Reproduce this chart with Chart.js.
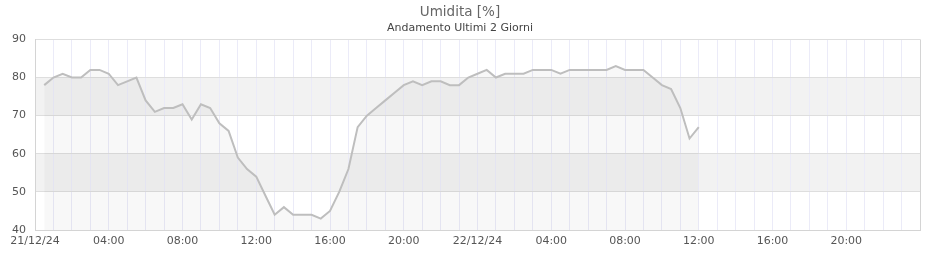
<!DOCTYPE html>
<html>
<head>
<meta charset="utf-8">
<script src="https://cdn.jsdelivr.net/npm/chart.js@4"></script>
<style>
  html, body { margin: 0; padding: 0; background: #ffffff; }
  #wrap { width: 940px; height: 260px; }
</style>
</head>
<body>
<div id="wrap"><canvas id="umiditaChart" width="940" height="260"></canvas></div>
<script>
// ore dall'inizio del 21/12/24 (campioni ogni 30 minuti)
var times = [0.5, 1, 1.5, 2, 2.5, 3, 3.5, 4, 4.5, 5, 5.5, 6,
             6.5, 7, 7.5, 8, 8.5, 9, 9.5, 10, 10.5, 11, 11.5, 12,
             12.5, 13, 13.5, 14, 14.5, 15, 15.5, 16, 16.5, 17, 17.5, 18,
             18.5, 19, 19.5, 20, 20.5, 21, 21.5, 22, 22.5, 23, 23.5, 24,
             24.5, 25, 25.5, 26, 26.5, 27, 27.5, 28, 28.5, 29, 29.5, 30,
             30.5, 31, 31.5, 32, 32.5, 33, 33.5, 34, 34.5, 35, 35.5, 36];

var umidita = [78, 80, 81, 80, 80, 82, 82, 81, 78, 79, 80, 74,
               71, 72, 72, 73, 69, 73, 72, 68, 66, 59, 56, 54,
               49, 44, 46, 44, 44, 44, 43, 45, 50, 56, 67, 70,
               72, 74, 76, 78, 79, 78, 79, 79, 78, 78, 80, 81,
               82, 80, 81, 81, 81, 82, 82, 82, 81, 82, 82, 82,
               82, 82, 83, 82, 82, 82, 80, 78, 77, 72, 64, 67];

var bands = [[70, 80], [50, 60]];          // fasce grigie di sfondo

var tickHours = [0, 4, 8, 12, 16, 20, 24, 28, 32, 36, 40, 44];
var tickLabels = ['21/12/24', '04:00', '08:00', '12:00', '16:00', '20:00',
                  '22/12/24', '04:00', '08:00', '12:00', '16:00', '20:00'];

var bandPlugin = {                         // disegna le fasce sotto la griglia
  id: 'bands',
  beforeDraw: function (chart) {
    var ctx = chart.ctx;
    var area = chart.chartArea;
    var y = chart.scales.y;
    ctx.save();
    ctx.fillStyle = '#f2f2f2';
    for (var i = 0; i < bands.length; i++) {
      var top = y.getPixelForValue(bands[i][1]);
      var bot = y.getPixelForValue(bands[i][0]);
      ctx.fillRect(area.left, top, area.right - area.left, bot - top);
    }
    ctx.restore();
  }
};

function init() {
  var points = [];
  for (var i = 0; i < times.length; i++) {
    points.push({ x: times[i], y: umidita[i] });
  }

  var ctx = document.getElementById('umiditaChart').getContext('2d');
  new Chart(ctx, {
    type: 'line',
    data: {
      datasets: [{
        data: points,
        borderColor: '#bebebe',
        borderWidth: 2,
        backgroundColor: 'rgba(0,0,0,0.027)',
        fill: 'start',
        pointRadius: 0,
        tension: 0
      }]
    },
    options: {
      responsive: false,
      animation: false,
      layout: { padding: { left: 0, right: 20, top: 0, bottom: 0 } },
      plugins: {
        legend: { display: false },
        tooltip: { enabled: false },
        title: {
          display: true,
          text: 'Umidita [%]',
          color: '#666666',
          font: { family: 'DejaVu Sans', size: 13.5, weight: 'normal' },
          padding: { top: 4, bottom: 1 }
        },
        subtitle: {
          display: true,
          text: 'Andamento Ultimi 2 Giorni',
          color: '#444444',
          font: { family: 'DejaVu Sans', size: 11, weight: 'normal' },
          padding: { top: 0, bottom: 5 }
        }
      },
      scales: {
        x: {
          type: 'linear',
          min: 0,
          max: 48,
          afterFit: function (scale) { scale.height = 30; },
          grid: {
            drawTicks: false,
            color: function (c) { return c.tick && c.tick.value === 48 ? '#d4d4d4' : '#ebebf8'; }
          },
          border: { color: '#d4d4d4' },
          ticks: {
            stepSize: 1,
            autoSkip: false,
            maxRotation: 0,
            padding: 5,
            color: '#555555',
            font: { family: 'DejaVu Sans', size: 11 },
            callback: function (v) {
              var k = tickHours.indexOf(v);
              return k >= 0 ? tickLabels[k] : '';
            }
          }
        },
        y: {
          min: 40,
          max: 90,
          afterFit: function (scale) { scale.width = 35; },
          grid: { drawTicks: false, color: '#dedede' },
          border: { color: '#d4d4d4' },
          ticks: {
            stepSize: 10,
            padding: 9,
            color: '#555555',
            font: { family: 'DejaVu Sans', size: 11 }
          }
        }
      }
    },
    plugins: [bandPlugin]
  });
}

init();
</script>
</body>
</html>
